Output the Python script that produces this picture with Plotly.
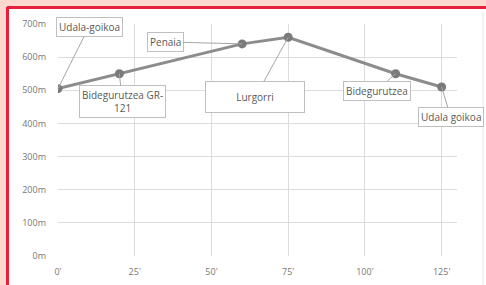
import plotly.graph_objects as go

minutes = [0, 20, 60, 75, 110, 125]
altitude = [505, 550, 640, 660, 550, 510]
labels = ["Udala-goikoa", "Bidegurutzea GR-<br>121", "Penaia", "Lurgorri", "Bidegurutzea", "Udala goikoa"]
x_ticks = [0, 25, 50, 75, 100, 125]
x_ticktext = ["0'", "25'", "50'", "75'", "100'", "125'"]
y_ticks = [0, 100, 200, 300, 400, 500, 600, 700]
y_ticktext = ["0m", "100m", "200m", "300m", "400m", "500m", "600m", "700m"]

# label box offsets (pixels) relative to point
offsets = [(31, -62), (3, 28), (-77, -2), (-33, 60), (-19, 17), (9, 30)]

fig = go.Figure()
fig.add_trace(go.Scatter(
    x=minutes, y=altitude, mode="lines+markers",
    line=dict(color="#8c8c8c", width=3),
    marker=dict(color="#7a7a7a", size=9),
    hoverinfo="skip",
))

for i, (x, y, t) in enumerate(zip(minutes, altitude, labels)):
    ax, ay = offsets[i]
    kw = {}
    if t == "Lurgorri":
        kw = dict(width=94, height=26)
    fig.add_annotation(
        x=x, y=y, text=t, showarrow=True, arrowhead=0, arrowwidth=1,
        arrowcolor="#a6a6a6", ax=ax, ay=ay,
        font=dict(family="Open Sans", size=10, color="#595959"),
        bgcolor="white", bordercolor="#bfbfbf", borderwidth=1, borderpad=2,
        standoff=0, **kw,
    )

L, R, T, B = 58, 29, 24, 29
W, H = 486, 285
pw = W - L - R
ph = H - T - B

def px_x(p):
    return (p - L) / pw

def px_y(p):
    return (H - B - p) / ph

shapes = [
    dict(type="rect", xref="paper", yref="paper", x0=-1, x1=2, y0=px_y(7), y1=2,
         fillcolor="#fcd8cf", line=dict(width=0), layer="below"),
    dict(type="rect", xref="paper", yref="paper", x0=-1, x1=px_x(7), y0=-1, y1=2,
         fillcolor="#fcd8cf", line=dict(width=0), layer="below"),
    dict(type="line", xref="paper", yref="paper", x0=px_x(7), x1=2, y0=px_y(7.5), y1=px_y(7.5),
         line=dict(color="#e4203a", width=3)),
    dict(type="line", xref="paper", yref="paper", x0=px_x(7.5), x1=px_x(7.5), y0=-1, y1=px_y(7),
         line=dict(color="#e4203a", width=3)),
    dict(type="line", xref="paper", yref="paper", x0=px_x(483), x1=px_x(483), y0=-1, y1=px_y(12),
         line=dict(color="#e6e6e6", width=1), layer="below"),
]

fig.update_layout(
    width=W, height=H,
    margin=dict(l=L, r=R, t=T, b=B),
    paper_bgcolor="white", plot_bgcolor="white",
    showlegend=False,
    shapes=shapes,
    xaxis=dict(range=[0, 130], tickvals=x_ticks, ticktext=x_ticktext,
               showgrid=True, gridcolor="#dcdcdc", gridwidth=1,
               zeroline=False, showline=False, automargin=False,
               tickfont=dict(family="Open Sans", size=9, color="#777777"),
               ticklabelstandoff=9, fixedrange=True),
    yaxis=dict(range=[0, 700], tickvals=y_ticks, ticktext=y_ticktext,
               showgrid=True, gridcolor="#dcdcdc", gridwidth=1,
               zeroline=False, showline=False, automargin=False,
               tickfont=dict(family="Open Sans", size=9, color="#777777"),
               ticklabelstandoff=11, fixedrange=True),
)

fig.write_html(
    "out.html",
    config={"displayModeBar": False},
    post_script="document.body.style.margin='0';document.body.style.overflow='hidden';",
)
